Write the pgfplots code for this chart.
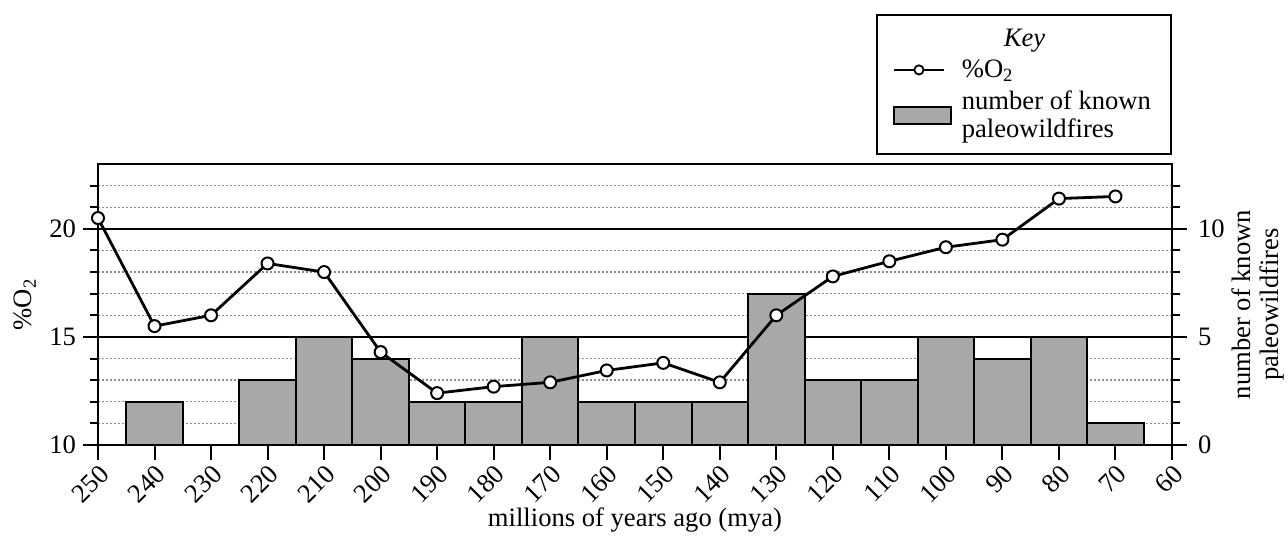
\documentclass[border=0pt]{standalone}
\usepackage{pgfplots}
\pgfplotsset{compat=1.18}
\usepackage{fontspec}
\setmainfont{Liberation Serif}
\definecolor{barfill}{RGB}{168,168,168}
\pgfplotstableread{
x n
240 2
220 3
210 5
200 4
190 2
180 2
170 5
160 2
150 2
140 2
130 7
120 3
110 3
100 5
90 4
80 5
70 1
}\firetable
\pgfplotstableread{
x o
250 20.5
240 15.5
230 16.0
220 18.4
210 18.0
200 14.3
190 12.4
180 12.7
170 12.9
160 13.45
150 13.8
140 12.9
130 16.0
120 17.8
110 18.5
100 19.15
90 19.5
80 21.4
70 21.5
}\oxytable
\pgfplotsset{
  o2legend/.style={legend image code/.code={%
    \draw[black, line width=1.3pt] (0pt,0pt) -- (25pt,0pt);
    \draw[black, fill=white, line width=0.9pt] (12.5pt,0pt) circle (2.3pt);}},
  barlegend/.style={legend image code/.code={%
    \draw[fill=barfill, draw=black, line width=0.9pt] (0pt,-4.25pt) rectangle (28.5pt,4.25pt);}},
}
\begin{document}
\begin{tikzpicture}
\path[use as bounding box] (0pt,0pt) rectangle (644pt,-271pt);
\pgfplotsset{
  common/.style={
    at={(49pt,-222.5pt)}, anchor=south west,
    scale only axis, width=537pt, height=140.5pt,
    x dir=reverse, xmin=60, xmax=250,
    font=\fontsize{13.3}{14}\selectfont,
    /pgf/number format/assume math mode=true,
    tick align=outside,
    major tick length=7.5pt, minor tick length=4pt,
    every tick/.style={black, line width=1pt},
    axis line style={black, line width=1.2pt},
    axis on top=false,
  }
}
% bars, grid, right axis
\begin{axis}[common,
  ymin=0, ymax=13,
  xtick=\empty,
  ytick={0,5,10}, minor ytick={1,2,3,4,6,7,8,9,11,12},
  ytick pos=right, yticklabel pos=right,
  yticklabel style={xshift=2pt},
  ymajorgrids, yminorgrids,
  major grid style={black, line width=1.1pt},
  minor grid style={gray!90, line width=0.7pt, dash pattern=on 1pt off 1pt},
  ylabel={number of known\\paleowildfires},
  ylabel style={align=center, at={(axis description cs:1.08,0.5)}, anchor=center},
]
\addplot[ybar, bar width=10, fill=barfill, draw=black, line width=1pt] table[x=x, y=n] {\firetable};
\end{axis}
% O2 line, left axis, x axis, legend
\begin{axis}[common,
  ymin=10, ymax=23,
  ytick={10,15,20}, minor ytick={11,...,22},
  ytick pos=left,
  xtick={60,70,...,250}, xtick pos=bottom,
  xticklabel style={rotate=45, anchor=north east, inner sep=1pt},
  ylabel={\%O\textsubscript{2}},
  ylabel style={at={(axis description cs:-0.068,0.5)}, anchor=center},
  xlabel={millions of years ago (mya)},
  xlabel style={at={(axis description cs:0.5,0)}, yshift=-37.5pt, anchor=center},
  legend style={at={(axis description cs:1,1)}, anchor=south east, yshift=4.5pt,
    draw=black, line width=1pt, inner xsep=8pt, inner ysep=5pt,
    column sep=3pt,
    cells={anchor=west, align=left}, row sep=1pt,
    font=\fontsize{13.3}{14}\selectfont},
]
\addlegendimage{empty legend}
\addlegendentry{\hspace{21pt}\textit{Key}\rule[-4pt]{0pt}{4pt}}
\addplot[black, line width=1.4pt, mark=*, mark size=3pt,
  mark options={fill=white, draw=black, line width=1pt}, o2legend]
  table[x=x, y=o] {\oxytable};
\addlegendentry{\%O\textsubscript{2}}
\addlegendimage{barlegend}
\addlegendentry{number of known\\paleowildfires}
\end{axis}
\end{tikzpicture}
\end{document}
